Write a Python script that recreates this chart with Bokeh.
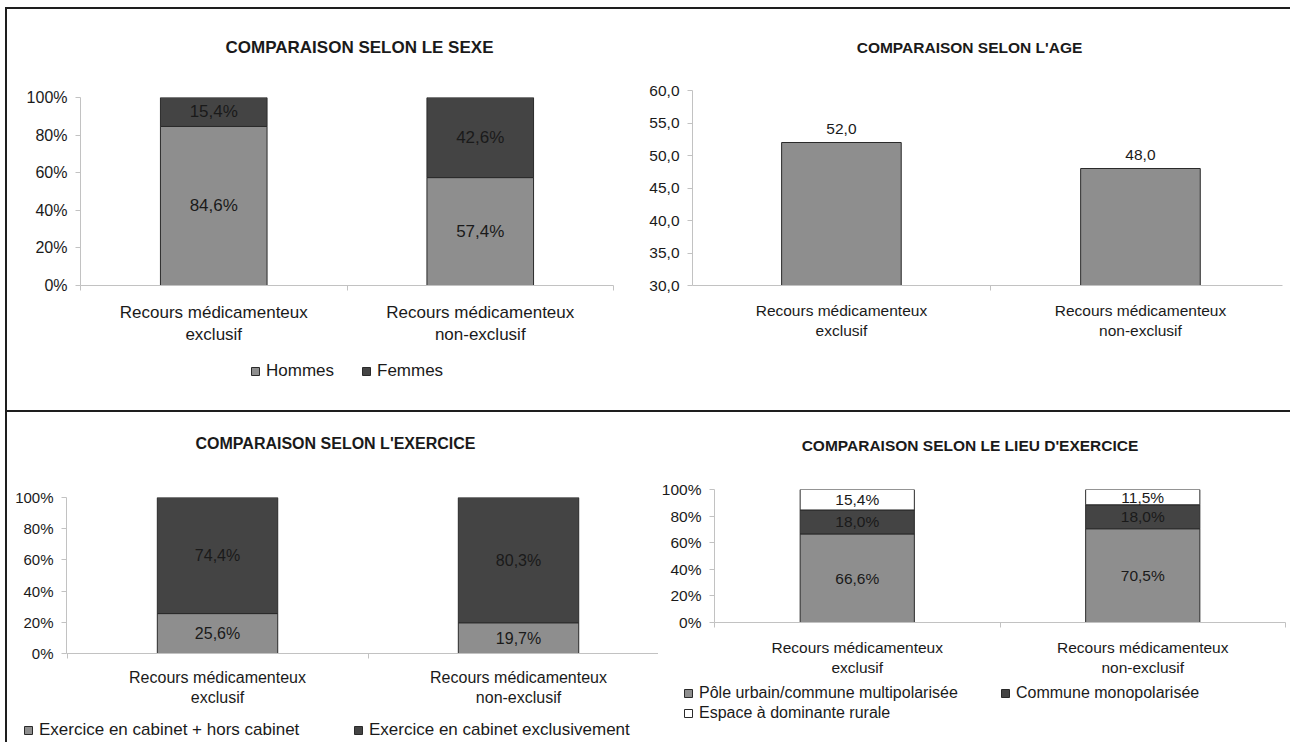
from bokeh.plotting import figure
from bokeh.models import (ColumnDataSource, Range1d, FixedTicker, Legend,
                          LegendItem, Div, Spacer, Label)
from bokeh.layouts import column, row
from bokeh.embed import file_html
from bokeh.resources import INLINE

# ---------------------------------------------------------------- data
categories = [("Recours médicamenteux", "exclusif"),
              ("Recours médicamenteux", "non-exclusif")]

sexe_labels = ["Hommes", "Femmes"]
sexe_hommes = [84.6, 57.4]
sexe_femmes = [15.4, 42.6]

age_moyen = [52.0, 48.0]
age_ticks = [30, 35, 40, 45, 50, 55, 60]

exercice_labels = ["Exercice en cabinet + hors cabinet", "Exercice en cabinet exclusivement"]
exercice_mixte = [25.6, 19.7]
exercice_cabinet = [74.4, 80.3]

lieu_labels = ["Pôle urbain/commune multipolarisée", "Commune monopolarisée",
               "Espace à dominante rurale"]
lieu_pole = [66.6, 70.5]
lieu_mono = [18.0, 18.0]
lieu_rural = [15.4, 11.5]

pct_ticks = [0, 20, 40, 60, 80, 100]

titles = ["COMPARAISON SELON LE SEXE", "COMPARAISON SELON L'AGE",
          "COMPARAISON SELON L'EXERCICE", "COMPARAISON SELON LE LIEU D'EXERCICE"]

# ---------------------------------------------------------------- style
FONT = "Liberation Sans"
LIGHT = "#8e8e8e"
DARK = "#444444"
WHITE = "#ffffff"
EDGE = "#2a2a2a"
AXIS = "#c2c2c2"
TEXT = "#1a1a1a"
RULE = "#1e1e1e"


def fr(v, suffix=""):
    return f"{v:.1f}".replace(".", ",") + suffix


def make_panel(width, height, borders, xr, yr, yticks, ylabels, fs_tick, fs_cat,
               standoff_cat, title, title_fs, title_xy):
    left, right, top, bottom = borders
    p = figure(width=width, height=height, x_range=Range1d(*xr), y_range=Range1d(*yr),
               output_backend="svg", toolbar_location=None, title=None,
               min_border_left=left, min_border_right=right,
               min_border_top=top, min_border_bottom=bottom)
    p.outline_line_color = None
    p.grid.visible = False
    p.background_fill_color = "white"
    p.border_fill_color = "white"

    # chart heading, centred over the whole chart area
    p.add_layout(Label(x=title_xy[0], y=title_xy[1], x_units="canvas", y_units="canvas",
                       text=title, text_align="center", text_baseline="middle",
                       text_font=FONT, text_font_size=f"{title_fs}px",
                       text_font_style="bold", text_color=TEXT), "above")

    xa = p.xaxis[0]
    xa.ticker = FixedTicker(ticks=[0, 1], minor_ticks=[-0.5, 0.5, 1.5])
    xa.major_label_overrides = {i: "\n".join(c) for i, c in enumerate(categories)}
    xa.major_tick_out = 0
    xa.major_tick_in = 0
    xa.minor_tick_out = 5
    xa.minor_tick_in = 0
    xa.minor_tick_line_color = AXIS
    xa.axis_line_color = AXIS
    xa.major_label_standoff = standoff_cat
    xa.major_label_text_font = FONT
    xa.major_label_text_font_size = f"{fs_cat}px"
    xa.major_label_text_color = TEXT
    xa.major_label_text_line_height = 1.2

    ya = p.yaxis[0]
    ya.ticker = FixedTicker(ticks=yticks)
    ya.major_label_overrides = dict(zip(yticks, ylabels))
    ya.major_tick_out = 5
    ya.major_tick_in = 0
    ya.minor_tick_out = 0
    ya.minor_tick_in = 0
    ya.major_tick_line_color = AXIS
    ya.axis_line_color = AXIS
    ya.major_label_standoff = 8
    ya.major_label_text_font = FONT
    ya.major_label_text_font_size = f"{fs_tick}px"
    ya.major_label_text_color = TEXT
    return p


def legend_strip(width, height, rows, fs):
    """A bare figure that only carries the legend rows of a chart.

    rows: list of (labels, colors, (x, y), label_width)
    """
    q = figure(width=width, height=height, output_backend="svg", toolbar_location=None,
               x_axis_type=None, y_axis_type=None, min_border=0,
               x_range=Range1d(0, 1), y_range=Range1d(0, 1))
    q.outline_line_color = None
    q.grid.visible = False
    q.border_fill_color = "white"
    for labels, colors, loc, label_width in rows:
        items = []
        for lab, col in zip(labels, colors):
            # zero-size key holder: only its fill/line style shows, in the legend
            key = q.vbar(x=[0], top=[0], width=0, fill_color=col, line_color=EDGE,
                         line_width=1)
            items.append(LegendItem(label=lab, renderers=[key]))
        q.add_layout(Legend(items=items, location=loc, orientation="horizontal",
                            glyph_width=10, glyph_height=10, label_standoff=6,
                            label_width=label_width, label_height=20,
                            padding=0, margin=0, spacing=0,
                            border_line_color=None, background_fill_alpha=0,
                            label_text_font=FONT, label_text_font_size=f"{fs}px",
                            label_text_color=TEXT))
    return row(q, spacing=0)


def stacked(p, names, series, colors, fs_val):
    data = {"x": [0, 1]}
    data.update({n: s for n, s in zip(names, series)})
    src = ColumnDataSource(data)
    rs = p.vbar_stack(names, x="x", width=0.4, source=src, fill_color=colors,
                      line_color=EDGE, line_width=1)
    # segment value labels, centred in each segment
    xs, ys, txt = [], [], []
    for i in range(2):
        base = 0.0
        for s in series:
            xs.append(i)
            ys.append(base + s[i] / 2)
            txt.append(fr(s[i], "%"))
            base += s[i]
    p.text(x=xs, y=ys, text=txt, text_align="center", text_baseline="middle",
           text_font={"value": FONT}, text_font_size=f"{fs_val}px", text_color=TEXT)
    return rs


pct_labels = [f"{t}%" for t in pct_ticks]

# ---------------------------------------------------------------- sexe
p1 = make_panel(638, 349, (73, 32, 88, 73), (-0.5, 1.5), (0, 100), pct_ticks,
                pct_labels, 16, 17, 12, titles[0], 17, (352, 37.5))
stacked(p1, ["h", "f"], [sexe_hommes, sexe_femmes], [LIGHT, DARK], 17)
l1 = legend_strip(638, 52, [(sexe_labels, [LIGHT, DARK], (243, 29), 95)], 17)

# ---------------------------------------------------------------- age
p2 = make_panel(645, 401, (47, 8, 81, 125), (-0.498, 1.475), (30, 60), age_ticks,
                [fr(t) for t in age_ticks], 15.5, 15.5, 11, titles[1], 15.5, (324, 37.7))
src2 = ColumnDataSource({"x": [0, 1], "age": age_moyen,
                         "lab": [fr(a) for a in age_moyen]})
p2.vbar(x="x", top="age", bottom=30, width=0.4, source=src2, fill_color=LIGHT,
        line_color=EDGE, line_width=1)
p2.text(x="x", y="age", text="lab", source=src2, y_offset=-14, text_align="center",
        text_baseline="middle", text_font={"value": FONT}, text_font_size="15.5px",
        text_color=TEXT)

# ---------------------------------------------------------------- exercice
p3 = make_panel(651, 300, (59, 0, 85, 59), (-0.5017, 1.465), (0, 100), pct_ticks,
                pct_labels, 15, 16, 10, titles[2], 16, (328, 31))
stacked(p3, ["m", "c"], [exercice_mixte, exercice_cabinet], [LIGHT, DARK], 16)
l3 = legend_strip(651, 30, [(exercice_labels, [LIGHT, DARK], (16, 2), 314)], 17)

# ---------------------------------------------------------------- lieu
p4 = make_panel(632, 268, (55, 5, 77, 58), (-0.5, 1.5), (0, 100), pct_ticks,
                pct_labels, 15.5, 15.5, 11, titles[3], 15.5, (311.5, 33))
stacked(p4, ["p", "m", "r"], [lieu_pole, lieu_mono, lieu_rural],
        [LIGHT, DARK, WHITE], 15.5)
l4 = legend_strip(632, 62, [(lieu_labels[:2], [LIGHT, DARK], (25, 39), 301),
                            (lieu_labels[2:], [WHITE], (25, 19), 301)], 16)


# ---------------------------------------------------------------- frame rules
def rule(w, h):
    return Div(width=w, height=h, margin=0, styles={"background-color": RULE})


page = column(
    Spacer(width=1290, height=7, margin=0),
    row(Spacer(width=5, height=2, margin=0), rule(1285, 2), spacing=0),
    row(Spacer(width=5, height=733, margin=0), rule(2, 733),
        column(row(column(p1, l1, spacing=0), column(p2, spacing=0), spacing=0),
               rule(1283, 2),
               row(column(p3, l3, spacing=0), column(p4, l4, spacing=0), spacing=0),
               spacing=0),
        spacing=0),
    spacing=0,
)

open("out.html", "w").write(file_html(page, INLINE))
